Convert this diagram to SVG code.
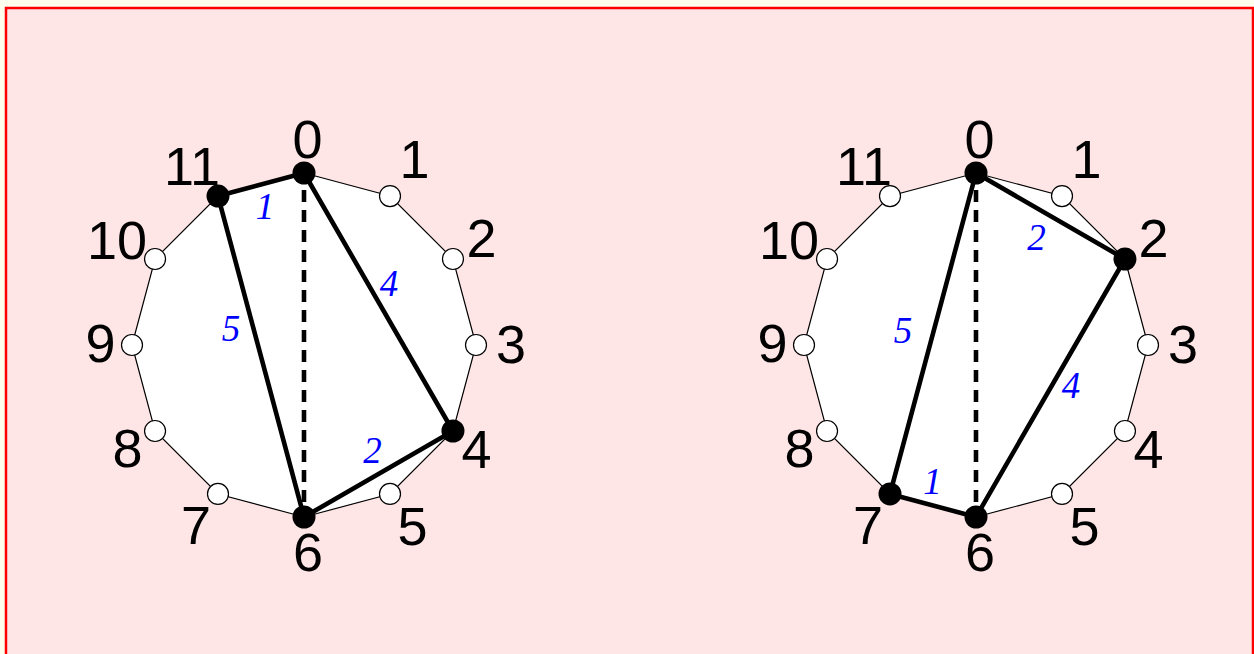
<svg xmlns="http://www.w3.org/2000/svg" width="1254" height="654" viewBox="0 0 1254 654">
<style>
.poly{fill:#fff;stroke:#000;stroke-width:1.2}
.thick{stroke:#000;stroke-width:4.6;fill:none;stroke-linecap:round}
.dash{stroke:#000;stroke-width:4.6;fill:none;stroke-dasharray:12 8;stroke-dashoffset:3}
.ov{fill:#fff;stroke:#000;stroke-width:1.2}
.fv{fill:#000}
.lbl{font-family:"Liberation Sans",Arial,sans-serif;font-size:54px;fill:#000;text-anchor:middle}
.el{font-family:"Liberation Serif","Times New Roman",serif;font-style:italic;font-size:37px;fill:#0000ff;text-anchor:middle}
</style>
<rect x="0" y="0" width="1254" height="654" fill="#ffffee"/>
<rect x="6" y="8" width="1247" height="660" fill="#ffe6e6" stroke="#ff0000" stroke-width="2.5"/>

<g id="left">
<polygon class="poly" points="304,173 390,196.04 452.96,259 476,345 452.96,431 390,493.96 304,517 218,493.96 155.04,431 132,345 155.04,259 218,196.04"/>
<g id="left-connectors">
<line class="dash" x1="304" y1="173" x2="304" y2="517"/>
<line class="thick" x1="218" y1="196.04" x2="304" y2="173"/>
<line class="thick" x1="304" y1="173" x2="452.96" y2="431"/>
<line class="thick" x1="452.96" y1="431" x2="304" y2="517"/>
<line class="thick" x1="304" y1="517" x2="218" y2="196.04"/>
</g>
<g id="left-v0"><circle class="fv" cx="304" cy="173" r="11.5"/><text class="lbl" x="307.5" y="157.5">0</text></g>
<g id="left-v1"><circle class="ov" cx="390" cy="196.04" r="10.5"/><text class="lbl" x="414.5" y="178">1</text></g>
<g id="left-v2"><circle class="ov" cx="452.96" cy="259" r="10.5"/><text class="lbl" x="481.5" y="257">2</text></g>
<g id="left-v3"><circle class="ov" cx="476" cy="345" r="10.5"/><text class="lbl" x="511" y="363">3</text></g>
<g id="left-v4"><circle class="fv" cx="452.96" cy="431" r="11.5"/><text class="lbl" x="476.5" y="467.5">4</text></g>
<g id="left-v5"><circle class="ov" cx="390" cy="493.96" r="10.5"/><text class="lbl" x="412.5" y="544.5">5</text></g>
<g id="left-v6"><circle class="fv" cx="304" cy="517" r="11.5"/><text class="lbl" x="308" y="571">6</text></g>
<g id="left-v7"><circle class="ov" cx="218" cy="493.96" r="10.5"/><text class="lbl" x="196" y="543.5">7</text></g>
<g id="left-v8"><circle class="ov" cx="155.04" cy="431" r="10.5"/><text class="lbl" x="127.5" y="466.5">8</text></g>
<g id="left-v9"><circle class="ov" cx="132" cy="345" r="10.5"/><text class="lbl" x="100.5" y="362">9</text></g>
<g id="left-v10"><circle class="ov" cx="155.04" cy="259" r="10.5"/><text class="lbl" x="117" y="258.5">10</text></g>
<g id="left-v11"><circle class="fv" cx="218" cy="196.04" r="11.5"/><text class="lbl" x="192" y="184.5">11</text></g>
<g id="left-edge-labels">
<text class="el" x="265" y="218.5">1</text>
<text class="el" x="389" y="295.5">4</text>
<text class="el" x="231" y="341">5</text>
<text class="el" x="372.5" y="463">2</text>
</g>
</g>

<g id="right">
<polygon class="poly" points="976,173 1062,196.04 1124.96,259 1148,345 1124.96,431 1062,493.96 976,517 890,493.96 827.04,431 804,345 827.04,259 890,196.04"/>
<g id="right-connectors">
<line class="dash" x1="976" y1="173" x2="976" y2="517"/>
<line class="thick" x1="976" y1="173" x2="1124.96" y2="259"/>
<line class="thick" x1="1124.96" y1="259" x2="976" y2="517"/>
<line class="thick" x1="976" y1="517" x2="890" y2="493.96"/>
<line class="thick" x1="890" y1="493.96" x2="976" y2="173"/>
</g>
<g id="right-v0"><circle class="fv" cx="976" cy="173" r="11.5"/><text class="lbl" x="979.5" y="157.5">0</text></g>
<g id="right-v1"><circle class="ov" cx="1062" cy="196.04" r="10.5"/><text class="lbl" x="1086.5" y="178">1</text></g>
<g id="right-v2"><circle class="fv" cx="1124.96" cy="259" r="11.5"/><text class="lbl" x="1153.5" y="257">2</text></g>
<g id="right-v3"><circle class="ov" cx="1148" cy="345" r="10.5"/><text class="lbl" x="1183" y="363">3</text></g>
<g id="right-v4"><circle class="ov" cx="1124.96" cy="431" r="10.5"/><text class="lbl" x="1148.5" y="467.5">4</text></g>
<g id="right-v5"><circle class="ov" cx="1062" cy="493.96" r="10.5"/><text class="lbl" x="1084.5" y="544.5">5</text></g>
<g id="right-v6"><circle class="fv" cx="976" cy="517" r="11.5"/><text class="lbl" x="980" y="571">6</text></g>
<g id="right-v7"><circle class="fv" cx="890" cy="493.96" r="11.5"/><text class="lbl" x="868" y="543.5">7</text></g>
<g id="right-v8"><circle class="ov" cx="827.04" cy="431" r="10.5"/><text class="lbl" x="799.5" y="466.5">8</text></g>
<g id="right-v9"><circle class="ov" cx="804" cy="345" r="10.5"/><text class="lbl" x="772.5" y="362">9</text></g>
<g id="right-v10"><circle class="ov" cx="827.04" cy="259" r="10.5"/><text class="lbl" x="789" y="258.5">10</text></g>
<g id="right-v11"><circle class="ov" cx="890" cy="196.04" r="10.5"/><text class="lbl" x="864" y="184.5">11</text></g>
<g id="right-edge-labels">
<text class="el" x="1036.5" y="249.5">2</text>
<text class="el" x="903" y="342.5">5</text>
<text class="el" x="1071" y="397.5">4</text>
<text class="el" x="932.5" y="493.5">1</text>
</g>
</g>
</svg>
